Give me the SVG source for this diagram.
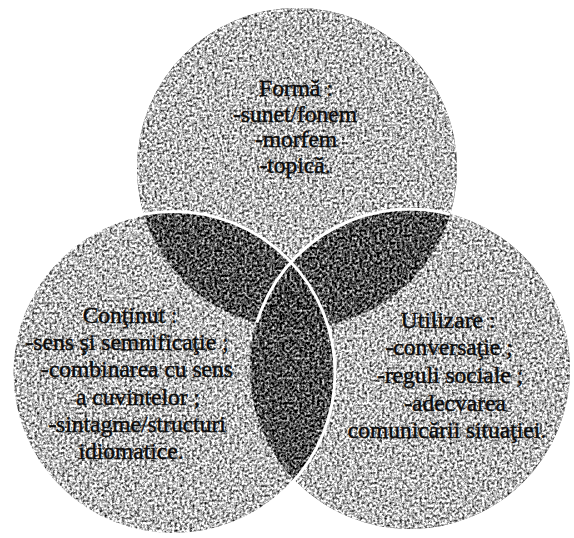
<svg xmlns="http://www.w3.org/2000/svg" width="574" height="538" viewBox="0 0 574 538">
<defs>
  <style>
    .disc { fill: #b9b9b9; }
    .dark { fill: #505050; }
    .darker { fill: #464646; }
    .sep { fill: none; stroke: #ffffff; stroke-width: 3; }
    text { font-family: "Liberation Serif", "DejaVu Serif", serif; font-size: 23.5px; fill: #0a0a0a; stroke: #0a0a0a; stroke-width: 0.45; text-anchor: middle; }
  </style>
  <clipPath id="cT"><circle cx="297" cy="168" r="160"/></clipPath>
  <clipPath id="cL"><circle cx="173.5" cy="373" r="161.5"/></clipPath>
  <clipPath id="cR"><circle cx="410" cy="369" r="160"/></clipPath>
  <filter id="grain" filterUnits="userSpaceOnUse" x="0" y="0" width="574" height="538" color-interpolation-filters="sRGB">
    <feTurbulence type="fractalNoise" baseFrequency="0.4" numOctaves="2" seed="4" result="n"/>
    <feColorMatrix in="n" type="matrix" values="1 0 0 0 0  1 0 0 0 0  1 0 0 0 0  0 0 0 0 1" result="g"/>
    <feComposite in="SourceGraphic" in2="g" operator="arithmetic" k1="0" k2="1" k3="2" k4="-1" result="m"/>
    <feComposite in="m" in2="SourceAlpha" operator="in"/>
  </filter>
</defs>

<g id="forma">
  <circle class="disc" cx="297" cy="168" r="160" filter="url(#grain)"/>
  <text x="296" y="96">Formă :</text>
  <text x="295" y="122">-sunet/fonem</text>
  <text x="296" y="147">-morfem</text>
  <text x="295" y="173">-topică.</text>
</g>

<g id="continut">
  <circle class="disc" cx="173.5" cy="373" r="161.5" filter="url(#grain)"/>
  <text x="130" y="323">Conţinut :</text>
  <text x="127" y="350">-sens şi semnificaţie ;</text>
  <text x="137" y="377">-combinarea cu sens</text>
  <text x="138" y="405">a cuvintelor ;</text>
  <text x="137" y="432">-sintagme/structuri</text>
  <text x="131" y="459">idiomatice.</text>
</g>

<g id="utilizare">
  <circle class="disc" cx="410" cy="369" r="160" filter="url(#grain)"/>
  <text x="448" y="328">Utilizare :</text>
  <text x="449" y="355">-conversaţie ;</text>
  <text x="450" y="383">-reguli sociale ;</text>
  <text x="455" y="411">-adecvarea</text>
  <text x="447" y="438">comunicării situaţiei.</text>
</g>

<g id="overlaps">
  <g filter="url(#grain)">
    <g clip-path="url(#cL)"><circle class="dark" cx="297" cy="168" r="160"/></g>
    <g clip-path="url(#cR)"><circle class="dark" cx="297" cy="168" r="160"/></g>
    <g clip-path="url(#cR)"><circle class="dark" cx="173.5" cy="373" r="161.5"/></g>
    <g clip-path="url(#cR)"><g clip-path="url(#cL)"><circle class="darker" cx="297" cy="168" r="160"/></g></g>
  </g>
  <circle class="sep" cx="173.5" cy="373" r="161.5"/>
  <g clip-path="url(#cT)"><circle class="sep" cx="410" cy="369" r="160"/></g>
</g>
</svg>
